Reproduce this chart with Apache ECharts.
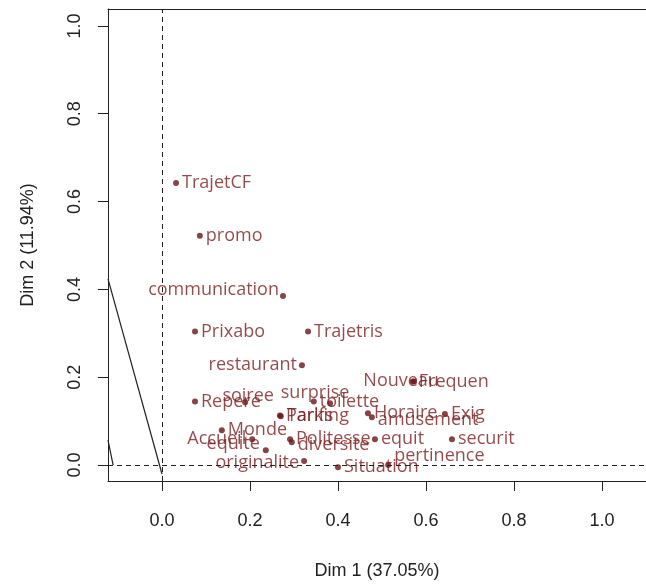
<!DOCTYPE html>
<html>
<head>
<meta charset="utf-8">
<script src="https://cdn.jsdelivr.net/npm/echarts@6/dist/echarts.min.js"></script>
<style>
html,body{margin:0;padding:0;background:#fff;}
#c{width:646px;height:585px;}
</style>
</head>
<body>
<div id="c"></div>
<script>
// ---- data ----
const names = ['TrajetCF','promo','communication','Prixabo','Trajetris','restaurant','Repere','soiree','surprise','toilette','Nouveau','Frequen','Parking','Tarifs','Horaire','Exig','amusement','Monde','Accueil','equite','Politesse','diversite','equit','securit','originalite','Situation','pertinence'];
const dim1 = [0.032,0.086,0.275,0.075,0.332,0.318,0.075,0.189,0.382,0.345,0.573,0.570,0.268,0.270,0.468,0.643,0.477,0.136,0.205,0.236,0.291,0.295,0.484,0.659,0.323,0.400,0.514];
const dim2 = [0.642,0.522,0.385,0.304,0.304,0.227,0.145,0.143,0.141,0.145,0.190,0.190,0.113,0.111,0.118,0.116,0.109,0.079,0.059,0.034,0.059,0.052,0.059,0.059,0.009,-0.005,0.000];
const tickValues = [0.0,0.2,0.4,0.6,0.8,1.0];
// arrow segments (variable vectors, clipped by the frame)
const seg1x = [0.0,-0.1227], seg1y = [-0.0204,0.424];
const seg2x = [-0.1227,-0.111], seg2y = [0.0567,0.0];

// ---- label placement (style, kept apart from data) ----
const labelPlace = {
  communication:['left',2,-6], restaurant:['left',1,0], soiree:['inside',3,-6],
  surprise:['inside',-15,-10], Nouveau:['inside',-13,-1], amusement:['right',0,3],
  Accueil:['left',0,0], equite:['left',0,-6], diversite:['right',0,3],
  originalite:['left',1,2], pertinence:['right',0,-9]
};

const RED = '#7a1d1d';
const pts = names.map((n,i)=>{
  const p = labelPlace[n] || ['right',0,0];
  return {name:n, value:[dim1[i],dim2[i]],
    label:{show:true, position:p[0], offset:[p[1],p[2]], distance:3, formatter:n}};
});

const chart = echarts.init(document.getElementById('c'), null, {renderer:'canvas'});
const axisFont = {fontFamily:'Liberation Sans', fontSize:18, color:'#222'};
chart.setOption({
  animation:false,
  grid:{left:108, top:9, bottom:102, right:0, containLabel:false},
  xAxis:[{
    type:'value', min:-0.1227, max:1.1, position:'bottom',
    axisLine:{show:true, onZero:false, lineStyle:{color:'#222', width:1}},
    axisTick:{show:true, length:10, customValues:tickValues, lineStyle:{color:'#222'}},
    axisLabel:Object.assign({customValues:tickValues, margin:31, formatter:v=>v.toFixed(1)}, axisFont),
    splitLine:{show:false},
    name:'Dim 1 (37.05%)', nameLocation:'middle', nameGap:81,
    nameTextStyle:{fontFamily:'Liberation Sans', fontSize:18, color:'#222'}
  },{
    type:'value', min:-0.1227, max:1.1, position:'top',
    axisLine:{show:true, onZero:false, lineStyle:{color:'#222', width:1}},
    axisTick:{show:false}, axisLabel:{show:false}, splitLine:{show:false}
  }],
  yAxis:[{
    type:'value', min:-0.0363, max:1.0385,
    axisLine:{show:true, onZero:false, lineStyle:{color:'#222', width:1}},
    axisTick:{show:true, length:10, customValues:tickValues, lineStyle:{color:'#222'}},
    axisLabel:Object.assign({customValues:tickValues, margin:24, rotate:90, formatter:v=>v.toFixed(1)}, axisFont),
    splitLine:{show:false},
    name:'Dim 2 (11.94%)', nameLocation:'middle', nameGap:71,
    nameTextStyle:{fontFamily:'Liberation Sans', fontSize:18, color:'#222'}
  }],
  series:[
    {type:'line', data:seg1x.map((x,i)=>[x,seg1y[i]]), showSymbol:false, clip:true,
     lineStyle:{color:'#222', width:1.2}, silent:true,
     markLine:{symbol:'none', silent:true, label:{show:false},
       lineStyle:{color:'#222', type:[5,4], width:1},
       data:[{xAxis:0},{yAxis:0}]}},
    {type:'line', data:seg2x.map((x,i)=>[x,seg2y[i]]), showSymbol:false, clip:true,
     lineStyle:{color:'#222', width:1.2}, silent:true},
    {type:'scatter', data:pts, symbolSize:6, itemStyle:{color:'#6a1515'},
     label:{fontFamily:'Open Sans', fontSize:18, color:RED}}
  ]
});
</script>
</body>
</html>
